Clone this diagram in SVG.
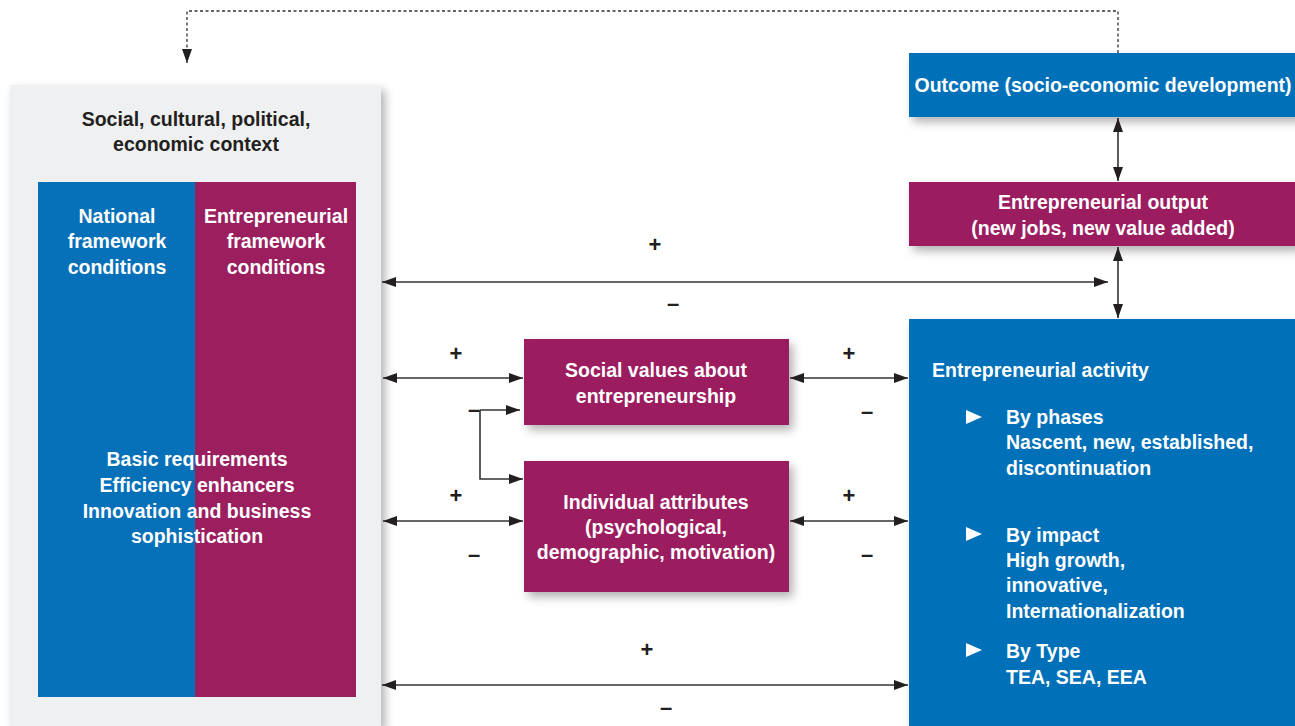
<svg xmlns="http://www.w3.org/2000/svg" width="1295" height="726" viewBox="0 0 1295 726">
<defs>
<style>
.t{font-family:"Liberation Sans",Arial,sans-serif;font-weight:bold;font-size:19.5px;}
.w{fill:#ffffff;}
.k{fill:#231f20;}
.c{text-anchor:middle;}
.blue{fill:#0670b8;}
.mag{fill:#9b1f5f;}
.ln{stroke:#333333;stroke-width:1.6;fill:none;}
.sg{font-family:"Liberation Sans",Arial,sans-serif;font-weight:bold;font-size:22px;fill:#231f20;text-anchor:middle;}
</style>
<filter id="sh" x="-10%" y="-10%" width="130%" height="140%">
<feDropShadow dx="4" dy="5" stdDeviation="5" flood-color="#000000" flood-opacity="0.3"/>
</filter>
<marker id="ae" viewBox="0 0 14 10" refX="14" refY="5" markerWidth="14" markerHeight="10" markerUnits="userSpaceOnUse" orient="auto">
<path d="M0,0 L14,5 L0,10 Z" fill="#231f20"/>
</marker>
<marker id="as" viewBox="0 0 14 10" refX="0" refY="5" markerWidth="14" markerHeight="10" markerUnits="userSpaceOnUse" orient="auto">
<path d="M14,0 L0,5 L14,10 Z" fill="#231f20"/>
</marker>
</defs>
<rect width="1295" height="726" fill="#ffffff"/>

<g id="context">
<rect x="10" y="85" width="371" height="641" fill="#eff0f2" filter="url(#sh)"/>
<text class="t k c" x="196" y="126">Social, cultural, political,</text>
<text class="t k c" x="196" y="151">economic context</text>
<rect x="38" y="182" width="158" height="515" class="blue"/>
<rect x="195" y="182" width="161" height="515" class="mag"/>
<text class="t w c" x="117" y="223">National</text>
<text class="t w c" x="117" y="248">framework</text>
<text class="t w c" x="117" y="274">conditions</text>
<text class="t w c" x="276" y="223">Entrepreneurial</text>
<text class="t w c" x="276" y="248">framework</text>
<text class="t w c" x="276" y="274">conditions</text>
<text class="t w c" x="197" y="466">Basic requirements</text>
<text class="t w c" x="197" y="492">Efficiency enhancers</text>
<text class="t w c" x="197" y="518">Innovation and business</text>
<text class="t w c" x="197" y="543">sophistication</text>
</g>

<g id="outcome">
<rect x="909" y="53" width="390" height="64" class="blue" filter="url(#sh)"/>
<text class="t w c" x="1103" y="92">Outcome (socio-economic development)</text>
</g>

<g id="output">
<rect x="909" y="182" width="390" height="64" class="mag" filter="url(#sh)"/>
<text class="t w c" x="1103" y="209">Entrepreneurial output</text>
<text class="t w c" x="1103" y="235">(new jobs, new value added)</text>
</g>

<g id="activity">
<rect x="909" y="319" width="390" height="420" class="blue" filter="url(#sh)"/>
<text class="t w" x="932" y="377">Entrepreneurial activity</text>
<path d="M966,410 L982,417 L966,424 Z" fill="#ffffff"/>
<text class="t w" x="1006" y="424">By phases</text>
<text class="t w" x="1006" y="449">Nascent, new, established,</text>
<text class="t w" x="1006" y="475">discontinuation</text>
<path d="M966,527 L982,534 L966,541 Z" fill="#ffffff"/>
<text class="t w" x="1006" y="542">By impact</text>
<text class="t w" x="1006" y="567">High growth,</text>
<text class="t w" x="1006" y="592">innovative,</text>
<text class="t w" x="1006" y="618">Internationalization</text>
<path d="M966,643 L982,650 L966,657 Z" fill="#ffffff"/>
<text class="t w" x="1006" y="658">By Type</text>
<text class="t w" x="1006" y="684">TEA, SEA, EEA</text>
</g>

<g id="social">
<rect x="524" y="339" width="265" height="86" class="mag" filter="url(#sh)"/>
<text class="t w c" x="656" y="377">Social values about</text>
<text class="t w c" x="656" y="403">entrepreneurship</text>
</g>

<g id="individual">
<rect x="524" y="461" width="265" height="131" class="mag" filter="url(#sh)"/>
<text class="t w c" x="656" y="509">Individual attributes</text>
<text class="t w c" x="656" y="534">(psychological,</text>
<text class="t w c" x="656" y="559">demographic, motivation)</text>
</g>

<g id="connectors">
<path d="M1118,53 V11 H187 V63" stroke="#333333" stroke-width="1.3" stroke-dasharray="3,2.5" fill="none" marker-end="url(#ae)"/>
<line class="ln" x1="382" y1="282" x2="1108" y2="282" marker-start="url(#as)" marker-end="url(#ae)"/>
<line class="ln" x1="1118" y1="118" x2="1118" y2="181" marker-start="url(#as)" marker-end="url(#ae)"/>
<line class="ln" x1="1118" y1="247" x2="1118" y2="318" marker-start="url(#as)" marker-end="url(#ae)"/>
<line class="ln" x1="383" y1="378" x2="523" y2="378" marker-start="url(#as)" marker-end="url(#ae)"/>
<line class="ln" x1="383" y1="521" x2="523" y2="521" marker-start="url(#as)" marker-end="url(#ae)"/>
<path class="ln" d="M480,410 H520" marker-end="url(#ae)"/>
<path class="ln" d="M480,410 V479 H523" marker-end="url(#ae)"/>
<line class="ln" x1="790" y1="378" x2="908" y2="378" marker-start="url(#as)" marker-end="url(#ae)"/>
<line class="ln" x1="790" y1="521" x2="908" y2="521" marker-start="url(#as)" marker-end="url(#ae)"/>
<line class="ln" x1="382" y1="685" x2="908" y2="685" marker-start="url(#as)" marker-end="url(#ae)"/>
<text class="sg" x="655" y="252">+</text>
<text class="sg" x="673" y="311">–</text>
<text class="sg" x="456" y="361">+</text>
<text class="sg" x="474" y="417">–</text>
<text class="sg" x="456" y="503">+</text>
<text class="sg" x="474" y="562">–</text>
<text class="sg" x="849" y="361">+</text>
<text class="sg" x="867" y="419">–</text>
<text class="sg" x="849" y="503">+</text>
<text class="sg" x="867" y="562">–</text>
<text class="sg" x="647" y="657">+</text>
<text class="sg" x="666" y="715">–</text>
</g>
</svg>
